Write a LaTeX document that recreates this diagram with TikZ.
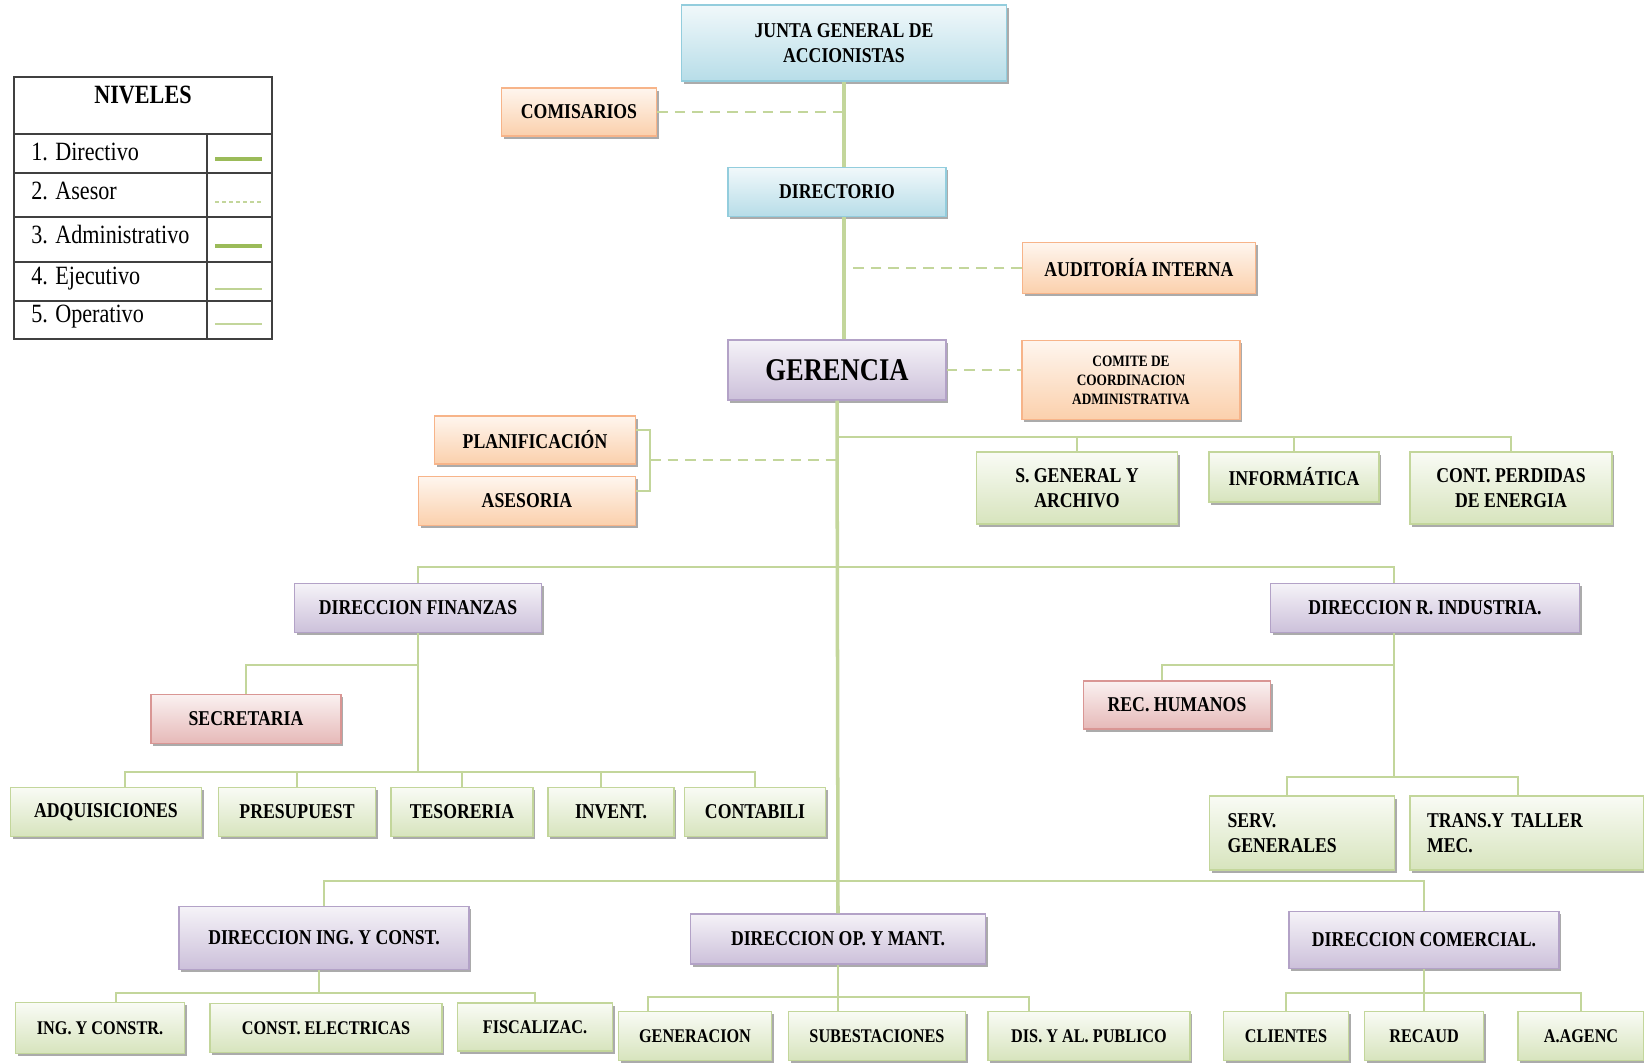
\documentclass[tikz,border=0pt]{standalone}
\usepackage{fontspec}
\setmainfont{Liberation Serif}[FakeStretch=0.84]
\usetikzlibrary{shadows}

\definecolor{bluefill}{HTML}{B7DDE8}
\definecolor{bluedraw}{HTML}{93CDDD}
\definecolor{orangefill}{HTML}{FBD0AC}
\definecolor{orangedraw}{HTML}{F7B489}
\definecolor{purplefill}{HTML}{CCC0DA}
\definecolor{purpledraw}{HTML}{B3A2C7}
\definecolor{greenfill}{HTML}{D7E4BD}
\definecolor{greendraw}{HTML}{C3D69B}
\definecolor{redfill}{HTML}{E6B9B8}
\definecolor{reddraw}{HTML}{D99694}
\definecolor{linegreen}{HTML}{C3D69B}
\definecolor{darkgreen}{HTML}{9BBB59}

\tikzset{
  unit/.style={draw, line width=0.8pt, inner sep=1pt, align=center,
    font=\bfseries\fontsize{12}{14}\selectfont,
    drop shadow={shadow xshift=1.2pt, shadow yshift=-1.6pt, fill=black!60, opacity=0.55}},
  blueunit/.style={unit, draw=bluedraw, top color=bluefill!20, bottom color=bluefill},
  orangeunit/.style={unit, draw=orangedraw, top color=orangefill!20, bottom color=orangefill},
  purpleunit/.style={unit, draw=purpledraw, top color=purplefill!20, bottom color=purplefill},
  greenunit/.style={unit, draw=greendraw, top color=greenfill!15, bottom color=greenfill},
  redunit/.style={unit, draw=reddraw, top color=redfill!20, bottom color=redfill},
  small/.style={font=\bfseries\fontsize{11}{13}\selectfont},
  wh/.style 2 args={minimum width=#1cm, minimum height=#2cm},
  trunk/.style={draw=linegreen, line width=2pt},
  link/.style={draw=linegreen, line width=1.2pt},
  staff/.style={draw=linegreen, line width=1.6pt, dash pattern=on 6pt off 4pt},
  legtext/.style={anchor=west, inner sep=0pt, font=\fontsize{15}{17}\selectfont}
}

\begin{document}
\begin{tikzpicture}[x=0.02cm, y=-0.02cm]
  \useasboundingbox (0,0) rectangle (1644,1063);

  % niveles
  \draw[black!75, line width=1pt] (14,77) rectangle (272,339);
  \draw[black!75, line width=1pt] (14,134) -- (272,134) (14,173) -- (272,173) (14,217) -- (272,217)
    (14,262) -- (272,262) (14,301) -- (272,301) (207,134) -- (207,339);
  \node[font=\bfseries\fontsize{15}{17}\selectfont] (niv) at (143,95) {NIVELES};
  \node[legtext] (niv1) at (31,152) {1. Directivo};
  \node[legtext] (niv2) at (31,191) {2. Asesor};
  \node[legtext] (niv3) at (31,235) {3. Administrativo};
  \node[legtext] (niv4) at (31,279) {4. Ejecutivo};
  \node[legtext] (niv5) at (31,317) {5. Operativo};
  \draw[darkgreen, line width=2.5pt] (215,159) -- (262,159);
  \draw[linegreen, line width=0.8pt, dash pattern=on 2pt off 2pt] (215,202) -- (262,202);
  \draw[darkgreen, line width=2.5pt] (215,246) -- (262,246);
  \draw[linegreen!90!darkgreen, line width=1.3pt] (215,289) -- (262,289);
  \draw[linegreen, line width=0.8pt] (215,324) -- (262,324);

  % unidades
  \node[blueunit, wh={6.5}{1.52}] (junta) at (844,43) {JUNTA GENERAL DE\\ACCIONISTAS};
  \node[orangeunit, wh={3.1}{0.96}] (comis) at (579,112) {COMISARIOS};
  \node[blueunit, wh={4.36}{0.98}] (direc) at (837,192) {DIRECTORIO};
  \node[orangeunit, wh={4.66}{1.02}] (audit) at (1139,268) {AUDITORÍA INTERNA};
  \node[purpleunit, wh={4.36}{1.2}, font=\bfseries\fontsize{18}{20}\selectfont] (geren) at (837,370) {GERENCIA};
  \node[orangeunit, wh={4.36}{1.58}, font=\bfseries\fontsize{9}{10.8}\selectfont] (comite) at (1131,380) {COMITE DE\\COORDINACION\\ADMINISTRATIVA};
  \node[orangeunit, wh={4.02}{0.96}] (planif) at (535,440) {PLANIFICACIÓN};
  \node[orangeunit, wh={4.34}{0.98}] (aseso) at (527,501) {ASESORIA};
  \node[greenunit, wh={4.02}{1.44}] (sgen) at (1077,488) {S. GENERAL Y\\ARCHIVO};
  \node[greenunit, wh={3.4}{1.0}] (infor) at (1294,477) {INFORMÁTICA};
  \node[greenunit, wh={4.04}{1.44}] (cont) at (1511,488) {CONT. PERDIDAS\\DE ENERGIA};

  \node[purpleunit, wh={4.94}{0.98}] (dfin) at (418,608) {DIRECCION FINANZAS};
  \node[purpleunit, wh={6.18}{0.98}] (dind) at (1425,608) {DIRECCION R. INDUSTRIA.};
  \node[redunit, wh={3.8}{0.98}] (secre) at (246,719) {SECRETARIA};
  \node[redunit, wh={3.74}{0.96}] (rech) at (1177,705) {REC. HUMANOS};

  \node[greenunit, wh={3.82}{0.98}] (adq) at (106,812) {ADQUISICIONES};
  \node[greenunit, wh={3.14}{0.98}] (pres) at (297,812) {PRESUPUEST};
  \node[greenunit, wh={2.84}{0.98}] (teso) at (462,812) {TESORERIA};
  \node[greenunit, wh={2.52}{0.98}] (inve) at (611,812) {INVENT.};
  \node[greenunit, wh={2.82}{0.98}] (conta) at (755,812) {CONTABILI};
  \node[greenunit, wh={3.7}{1.48}, inner xsep=0pt, text width=2.98cm, align=left] (serv) at (1302,833) {SERV.\\GENERALES};
  \node[greenunit, wh={4.68}{1.48}, inner xsep=0pt, text width=4.0cm, align=left] (trans) at (1527,833) {TRANS.Y TALLER\\MEC.};

  \node[purpleunit, wh={5.8}{1.26}] (ding) at (324,938) {DIRECCION ING. Y CONST.};
  \node[purpleunit, wh={5.9}{1.0}] (dop) at (838,939) {DIRECCION OP. Y MANT.};
  \node[purpleunit, wh={5.4}{1.14}] (dcom) at (1424,940) {DIRECCION COMERCIAL.};

  \node[greenunit, small, wh={3.38}{1.02}] (ingc) at (100,1028) {ING. Y CONSTR.};
  \node[greenunit, small, wh={4.64}{0.98}] (cele) at (326,1028) {CONST. ELECTRICAS};
  \node[greenunit, small, wh={3.1}{0.96}] (fisc) at (535,1027) {FISCALIZAC.};
  \node[greenunit, small, wh={3.06}{0.98}] (gene) at (695,1036) {GENERACION};
  \node[greenunit, small, wh={3.54}{0.98}] (sube) at (877,1036) {SUBESTACIONES};
  \node[greenunit, small, wh={4.04}{0.98}] (disp) at (1089,1036) {DIS. Y AL. PUBLICO};
  \node[greenunit, small, wh={2.5}{0.98}] (clie) at (1286,1036) {CLIENTES};
  \node[greenunit, small, wh={2.38}{0.98}] (reca) at (1424,1036) {RECAUD};
  \node[greenunit, small, wh={2.52}{0.98}] (agen) at (1581,1036) {A.AGENC};

  % lineas
  \coordinate (busA) at (837,437);
  \coordinate (busB) at (837,567);
  \coordinate (busE) at (837,881);
  \coordinate (brk) at (650,460);
  \coordinate (indx) at ([xshift=-0.62cm]dind.south);

  \draw[trunk] (junta.south) -- (junta.south |- direc.north);
  \draw[trunk] (junta.south |- direc.south) -- (junta.south |- geren.north);
  \draw[trunk] (geren.south) -- (dop.north);
  \draw[staff] (comis.east) -- (comis.east -| junta.south);
  \draw[staff] (audit.west) -- (audit.west -| junta.south);
  \draw[staff] (geren.east) -- (comite.west |- geren.east);
  \draw[link] ([yshift=0.2cm]planif.east) -| (brk) |- ([yshift=0.2cm]aseso.east);
  \draw[staff] (brk) -- (brk -| geren.south);

  \draw[link] (busA) -| (cont.north) (busA -| sgen.north) -- (sgen.north) (busA -| infor.north) -- (infor.north);
  \draw[link] (dfin.north) |- (busB) -| ([xshift=-0.62cm]dind.north);

  \draw[link] (dfin.south) -- (dfin.south |- 0,772);
  \draw[link] (dfin.south |- 0,665) -| (secre.north);
  \draw[link] ([xshift=0.38cm]adq.north) |- (conta.north |- 0,772) -- (conta.north);
  \draw[link] (pres.north) -- (pres.north |- 0,772) (teso.north) -- (teso.north |- 0,772)
    ([xshift=-0.2cm]inve.north) -- ([xshift=-0.2cm]inve.north |- 0,772);

  \draw[link] (indx) -- (indx |- 0,777);
  \draw[link] (indx |- 0,665) -| ([xshift=-0.3cm]rech.north);
  \draw[link] ([xshift=-0.3cm]serv.north) |- ([xshift=-0.18cm]trans.north |- 0,777) -- ([xshift=-0.18cm]trans.north);

  \draw[link] (ding.north) |- (busE) -| (dcom.north);

  \draw[link] ([xshift=-0.1cm]ding.south) -- ([xshift=-0.1cm]ding.south |- 0,993);
  \draw[link] ([xshift=0.32cm]ingc.north) |- (fisc.north |- 0,993) -- (fisc.north);
  \draw[link] (dop.south) -- (dop.south |- sube.north);
  \draw[link] ([xshift=-0.94cm]gene.north) |- ([xshift=-1.2cm]disp.north |- 0,997) -- ([xshift=-1.2cm]disp.north);
  \draw[link] (dcom.south) -- (reca.north);
  \draw[link] (clie.north) |- (agen.north |- 0,993) -- (agen.north);
\end{tikzpicture}
\end{document}
